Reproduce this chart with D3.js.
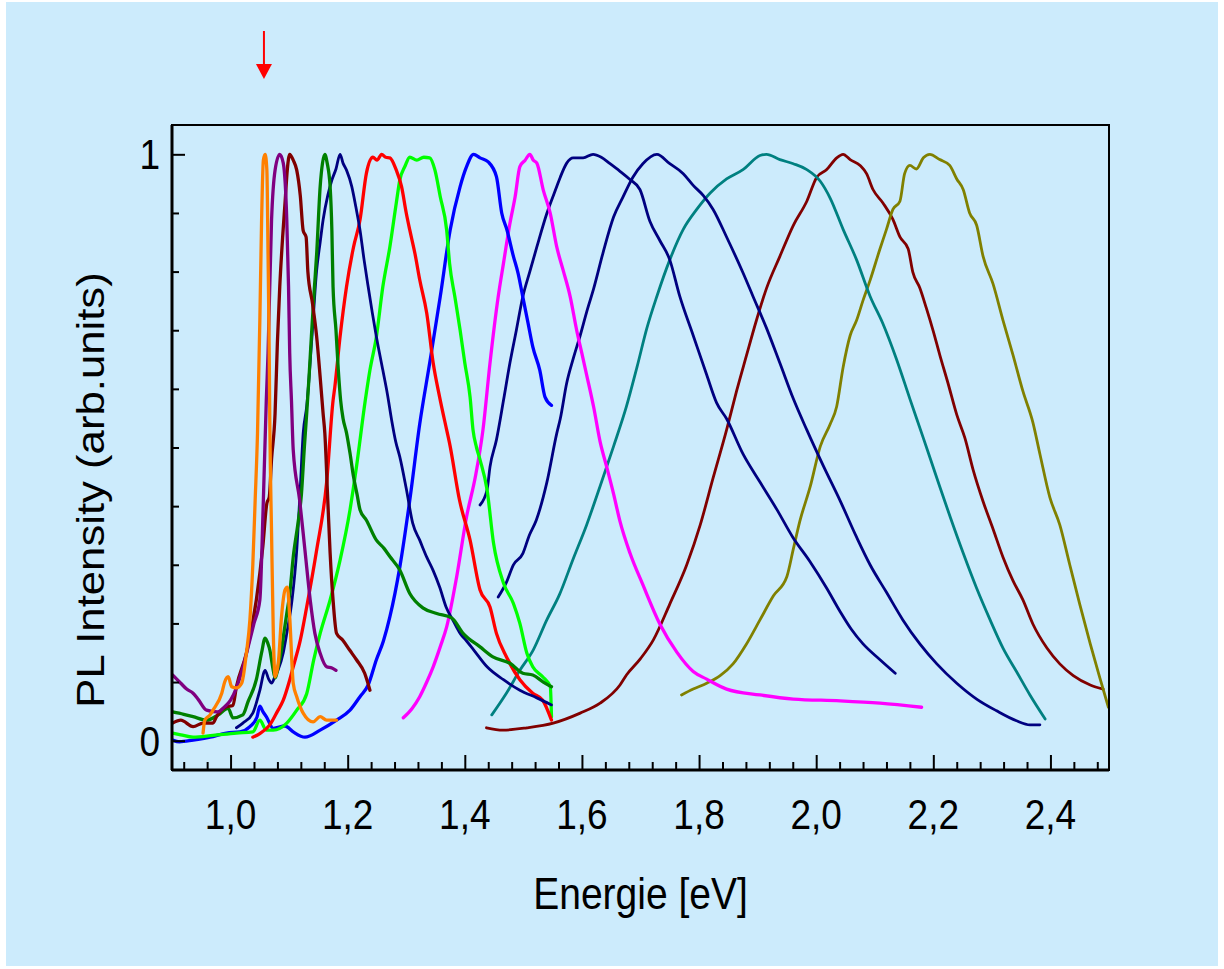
<!DOCTYPE html>
<html>
<head>
<meta charset="utf-8">
<script src="https://cdn.jsdelivr.net/npm/d3@7/dist/d3.min.js"></script>
<style>
  html, body { margin: 0; padding: 0; background: #ffffff; }
  svg { display: block; }
  text { font-family: "Liberation Sans", Arial, sans-serif; fill: #000; }
</style>
</head>
<body>
<svg id="chart" width="1224" height="969"></svg>
<script>
// ---------- data (energy eV, normalized PL intensity) ----------
const orange = [[0.953,0.013],[0.956,0.035],[0.965,0.044],[0.970,0.052],[0.985,0.081],[0.990,0.100],[0.996,0.109],[1.002,0.092],[1.010,0.090],[1.019,0.098],[1.027,0.149],[1.033,0.206],[1.038,0.30],[1.042,0.41],[1.046,0.524],[1.050,0.717],[1.053,0.888],[1.056,0.99],[1.059,1.0],[1.062,0.973],[1.064,0.83],[1.066,0.661],[1.067,0.545],[1.070,0.354],[1.073,0.183],[1.076,0.109],[1.082,0.138],[1.087,0.211],[1.093,0.257],[1.097,0.262],[1.101,0.211],[1.107,0.098],[1.113,0.075],[1.124,0.047],[1.141,0.032],[1.153,0.041],[1.164,0.035],[1.181,0.035]];
const purple = [[0.901,0.112],[0.915,0.098],[0.925,0.088],[0.936,0.081],[0.945,0.070],[0.959,0.052],[0.978,0.049],[0.990,0.058],[1.000,0.069],[1.010,0.090],[1.019,0.118],[1.030,0.160],[1.040,0.200],[1.050,0.240],[1.056,0.410],[1.061,0.580],[1.064,0.661],[1.070,0.888],[1.076,0.973],[1.084,1.0],[1.090,0.985],[1.096,0.888],[1.099,0.774],[1.101,0.661],[1.104,0.580],[1.107,0.496],[1.118,0.410],[1.127,0.325],[1.136,0.240],[1.144,0.183],[1.153,0.149],[1.164,0.126],[1.173,0.124],[1.180,0.120]];
const maroon1 = [[0.901,0.030],[0.915,0.035],[0.936,0.024],[0.953,0.030],[0.970,0.030],[0.976,0.041],[0.993,0.058],[1.004,0.060],[1.010,0.092],[1.027,0.149],[1.044,0.240],[1.055,0.330],[1.062,0.405],[1.066,0.415],[1.070,0.480],[1.076,0.558],[1.080,0.680],[1.084,0.774],[1.089,0.860],[1.093,0.917],[1.097,0.975],[1.101,1.0],[1.107,0.990],[1.113,0.973],[1.119,0.930],[1.124,0.870],[1.129,0.859],[1.132,0.800],[1.140,0.745],[1.147,0.689],[1.153,0.620],[1.158,0.558],[1.161,0.524],[1.166,0.410],[1.170,0.320],[1.175,0.240],[1.181,0.183],[1.192,0.171],[1.203,0.155],[1.215,0.138],[1.229,0.115],[1.238,0.086]];
const green = [[0.901,0.049],[0.920,0.045],[0.936,0.041],[0.959,0.035],[0.979,0.044],[0.996,0.055],[1.004,0.039],[1.021,0.044],[1.030,0.067],[1.044,0.104],[1.053,0.150],[1.059,0.175],[1.064,0.165],[1.067,0.155],[1.072,0.125],[1.076,0.107],[1.082,0.130],[1.087,0.155],[1.092,0.190],[1.096,0.217],[1.101,0.250],[1.107,0.313],[1.115,0.370],[1.121,0.420],[1.126,0.500],[1.130,0.558],[1.134,0.620],[1.138,0.689],[1.143,0.770],[1.147,0.830],[1.153,0.945],[1.157,0.985],[1.161,1.0],[1.165,0.985],[1.170,0.945],[1.173,0.870],[1.175,0.774],[1.180,0.700],[1.184,0.632],[1.188,0.580],[1.192,0.550],[1.198,0.525],[1.204,0.490],[1.210,0.450],[1.216,0.420],[1.221,0.394],[1.232,0.376],[1.249,0.342],[1.262,0.328],[1.272,0.314],[1.289,0.291],[1.306,0.251],[1.329,0.226],[1.352,0.217],[1.378,0.209],[1.397,0.183],[1.426,0.160],[1.448,0.143],[1.477,0.132],[1.499,0.115],[1.516,0.112],[1.534,0.100],[1.548,0.092]];
const navy1 = [[1.010,0.022],[1.021,0.030],[1.038,0.047],[1.050,0.086],[1.059,0.120],[1.065,0.105],[1.070,0.098],[1.076,0.110],[1.081,0.120],[1.090,0.150],[1.096,0.183],[1.105,0.240],[1.113,0.325],[1.119,0.430],[1.124,0.524],[1.130,0.570],[1.139,0.689],[1.147,0.802],[1.153,0.850],[1.158,0.888],[1.166,0.930],[1.173,0.956],[1.180,0.975],[1.187,1.0],[1.192,0.985],[1.198,0.973],[1.207,0.945],[1.214,0.910],[1.221,0.871],[1.228,0.820],[1.235,0.774],[1.242,0.730],[1.249,0.689],[1.260,0.632],[1.268,0.590],[1.275,0.547],[1.282,0.510],[1.289,0.484],[1.300,0.430],[1.311,0.371],[1.323,0.342],[1.335,0.313],[1.346,0.290],[1.357,0.262],[1.368,0.228],[1.380,0.205],[1.392,0.183],[1.403,0.170],[1.415,0.155],[1.438,0.126],[1.466,0.104],[1.494,0.086],[1.523,0.073],[1.548,0.061]];
const red = [[1.038,0.006],[1.050,0.012],[1.067,0.027],[1.080,0.050],[1.090,0.069],[1.100,0.100],[1.107,0.126],[1.119,0.171],[1.130,0.228],[1.147,0.325],[1.164,0.440],[1.175,0.580],[1.178,0.603],[1.187,0.689],[1.198,0.774],[1.210,0.842],[1.221,0.888],[1.232,0.968],[1.243,0.995],[1.250,0.990],[1.258,1.0],[1.265,0.995],[1.272,0.994],[1.283,0.973],[1.292,0.945],[1.300,0.900],[1.306,0.871],[1.315,0.830],[1.323,0.786],[1.335,0.729],[1.346,0.644],[1.357,0.586],[1.369,0.530],[1.374,0.507],[1.391,0.410],[1.409,0.342],[1.426,0.257],[1.443,0.228],[1.454,0.183],[1.471,0.143],[1.494,0.104],[1.516,0.081],[1.533,0.069],[1.548,0.035]];
const lime = [[0.901,0.013],[0.915,0.010],[0.936,0.006],[0.970,0.009],[1.010,0.013],[1.038,0.015],[1.050,0.035],[1.061,0.018],[1.073,0.018],[1.096,0.030],[1.113,0.052],[1.130,0.080],[1.142,0.138],[1.153,0.183],[1.170,0.240],[1.187,0.308],[1.204,0.394],[1.215,0.467],[1.230,0.580],[1.238,0.632],[1.249,0.689],[1.260,0.774],[1.272,0.842],[1.283,0.917],[1.289,0.956],[1.298,0.980],[1.306,0.995],[1.318,0.990],[1.330,0.995],[1.340,0.994],[1.349,0.973],[1.358,0.928],[1.369,0.871],[1.374,0.814],[1.383,0.757],[1.392,0.700],[1.400,0.644],[1.409,0.586],[1.414,0.530],[1.420,0.500],[1.426,0.479],[1.438,0.428],[1.449,0.337],[1.466,0.269],[1.483,0.234],[1.494,0.200],[1.506,0.149],[1.516,0.126],[1.533,0.109],[1.546,0.092],[1.548,0.041]];
const blue = [[0.901,0.001],[0.913,-0.002],[0.936,0.001],[0.965,0.006],[0.993,0.013],[1.016,0.015],[1.033,0.024],[1.045,0.040],[1.050,0.059],[1.055,0.050],[1.061,0.041],[1.073,0.021],[1.093,0.025],[1.107,0.015],[1.127,0.006],[1.153,0.018],[1.181,0.035],[1.204,0.052],[1.221,0.075],[1.235,0.095],[1.249,0.138],[1.261,0.170],[1.272,0.211],[1.289,0.296],[1.306,0.410],[1.323,0.540],[1.340,0.644],[1.358,0.757],[1.375,0.871],[1.392,0.945],[1.403,0.979],[1.415,1.0],[1.426,0.994],[1.440,0.987],[1.454,0.962],[1.463,0.900],[1.472,0.871],[1.483,0.826],[1.491,0.797],[1.499,0.757],[1.508,0.712],[1.516,0.672],[1.528,0.632],[1.537,0.586],[1.548,0.572]];
const magenta = [[1.295,0.039],[1.310,0.055],[1.323,0.075],[1.335,0.100],[1.346,0.126],[1.358,0.160],[1.369,0.194],[1.386,0.279],[1.403,0.382],[1.418,0.450],[1.431,0.530],[1.443,0.644],[1.457,0.757],[1.466,0.814],[1.477,0.882],[1.486,0.928],[1.494,0.979],[1.503,0.990],[1.511,1.0],[1.517,0.990],[1.523,0.985],[1.534,0.939],[1.546,0.899],[1.557,0.842],[1.568,0.802],[1.580,0.757],[1.591,0.700],[1.600,0.660],[1.608,0.624],[1.620,0.569],[1.631,0.510],[1.642,0.468],[1.654,0.421],[1.665,0.374],[1.682,0.320],[1.704,0.266],[1.733,0.199],[1.762,0.151],[1.790,0.118],[1.813,0.105],[1.847,0.088],[1.904,0.078],[1.961,0.071],[2.041,0.068],[2.109,0.064],[2.180,0.057]];
const navyA = [[1.426,0.402],[1.438,0.428],[1.443,0.467],[1.454,0.513],[1.466,0.580],[1.477,0.644],[1.488,0.700],[1.499,0.757],[1.511,0.800],[1.523,0.842],[1.540,0.899],[1.557,0.945],[1.563,0.961],[1.574,0.985],[1.585,0.994],[1.602,0.994],[1.619,1.0],[1.633,0.995],[1.648,0.984],[1.665,0.971],[1.682,0.957],[1.699,0.940],[1.716,0.886],[1.733,0.853],[1.750,0.820],[1.767,0.758],[1.790,0.691],[1.813,0.624],[1.830,0.576],[1.847,0.549],[1.875,0.489],[1.904,0.441],[1.933,0.394],[1.960,0.347],[1.989,0.306],[2.018,0.260],[2.041,0.220],[2.060,0.190],[2.080,0.165],[2.109,0.138],[2.135,0.115]];
const navyB = [[1.457,0.245],[1.471,0.270],[1.483,0.300],[1.499,0.319],[1.510,0.350],[1.522,0.376],[1.540,0.440],[1.557,0.524],[1.563,0.549],[1.574,0.610],[1.585,0.651],[1.597,0.691],[1.608,0.731],[1.620,0.771],[1.636,0.832],[1.654,0.893],[1.670,0.927],[1.687,0.961],[1.704,0.984],[1.728,1.0],[1.750,0.984],[1.773,0.967],[1.790,0.947],[1.807,0.930],[1.824,0.906],[1.847,0.859],[1.875,0.798],[1.892,0.758],[1.915,0.704],[1.938,0.644],[1.961,0.583],[1.984,0.530],[2.012,0.469],[2.041,0.409],[2.069,0.347],[2.092,0.300],[2.120,0.253],[2.148,0.206],[2.177,0.165],[2.206,0.131],[2.240,0.098],[2.274,0.071],[2.308,0.051],[2.342,0.034],[2.365,0.027],[2.382,0.027]];
const teal = [[1.446,0.044],[1.471,0.081],[1.494,0.120],[1.517,0.155],[1.540,0.206],[1.562,0.250],[1.585,0.310],[1.608,0.368],[1.631,0.434],[1.654,0.502],[1.676,0.570],[1.694,0.637],[1.711,0.704],[1.728,0.758],[1.750,0.820],[1.773,0.872],[1.796,0.906],[1.819,0.934],[1.847,0.958],[1.875,0.974],[1.904,0.998],[1.915,1.0],[1.938,0.991],[1.961,0.984],[1.984,0.974],[2.007,0.954],[2.024,0.925],[2.046,0.872],[2.069,0.820],[2.092,0.758],[2.114,0.711],[2.137,0.651],[2.160,0.583],[2.183,0.516],[2.206,0.448],[2.229,0.381],[2.251,0.320],[2.274,0.260],[2.297,0.206],[2.319,0.158],[2.342,0.118],[2.365,0.078],[2.391,0.037]];
const maroon2 = [[1.437,0.022],[1.465,0.018],[1.506,0.022],[1.551,0.030],[1.597,0.047],[1.631,0.064],[1.665,0.095],[1.676,0.112],[1.700,0.140],[1.722,0.172],[1.750,0.233],[1.779,0.300],[1.802,0.368],[1.824,0.448],[1.847,0.530],[1.864,0.596],[1.881,0.657],[1.898,0.717],[1.915,0.771],[1.938,0.826],[1.961,0.879],[1.984,0.920],[2.001,0.961],[2.018,0.974],[2.035,0.994],[2.046,1.0],[2.058,0.991],[2.075,0.981],[2.086,0.967],[2.097,0.940],[2.114,0.917],[2.131,0.889],[2.143,0.859],[2.157,0.839],[2.165,0.799],[2.177,0.772],[2.188,0.738],[2.200,0.698],[2.211,0.658],[2.225,0.610],[2.240,0.556],[2.254,0.516],[2.268,0.462],[2.285,0.408],[2.302,0.361],[2.319,0.313],[2.336,0.273],[2.353,0.240],[2.370,0.199],[2.394,0.158],[2.416,0.131],[2.439,0.111],[2.468,0.095],[2.490,0.088]];
const olive = [[1.770,0.078],[1.790,0.088],[1.813,0.098],[1.836,0.111],[1.858,0.131],[1.881,0.165],[1.904,0.206],[1.927,0.247],[1.950,0.280],[1.961,0.327],[1.972,0.374],[1.990,0.434],[2.007,0.502],[2.024,0.540],[2.035,0.570],[2.046,0.637],[2.058,0.691],[2.069,0.717],[2.080,0.751],[2.092,0.785],[2.109,0.839],[2.120,0.872],[2.131,0.906],[2.143,0.920],[2.151,0.967],[2.160,0.981],[2.171,0.975],[2.183,0.994],[2.194,1.0],[2.211,0.991],[2.228,0.981],[2.240,0.958],[2.251,0.940],[2.262,0.900],[2.274,0.879],[2.285,0.826],[2.302,0.779],[2.319,0.717],[2.336,0.658],[2.353,0.596],[2.370,0.543],[2.382,0.489],[2.399,0.415],[2.416,0.368],[2.433,0.300],[2.450,0.233],[2.468,0.165],[2.485,0.105],[2.499,0.057]];

const seriesNames  = ["maroon2","olive","teal","navyB","navyA","magenta","blue","lime","red","navy1","green","maroon1","purple","orange"];
const seriesData   = [maroon2, olive, teal, navyB, navyA, magenta, blue, lime, red, navy1, green, maroon1, purple, orange];
const seriesColors = ["#800000","#808000","#008080","#000080","#000080","#FF00FF","#0000FF","#00FF00","#FF0000","#000080","#008000","#800000","#800080","#FF8000"];

const xTickLabels = ["1,0","1,2","1,4","1,6","1,8","2,0","2,2","2,4"];
const xMajorTicks = [1.0,1.2,1.4,1.6,1.8,2.0,2.2,2.4];
const yTickLabels = ["0","1"];
const yMajorTicks = [0,1];
const arrowEnergy = 1.057;

// ---------- layout ----------
const W = 1224, H = 969;
const M = {left:172, top:125, right:1109, bottom:770};
const svg = d3.select("#chart");

svg.append("rect").attr("x",6).attr("y",2).attr("width",W-12).attr("height",H-5).attr("fill","#CCEBFC");

const x = d3.scaleLinear().domain([0.9,2.5]).range([M.left, M.right]);
const y = d3.scaleLinear().domain([-0.05,1.05]).range([M.bottom, M.top]);

svg.append("defs").append("clipPath").attr("id","clip")
  .append("rect").attr("x",M.left).attr("y",M.top).attr("width",M.right-M.left).attr("height",M.bottom-M.top);

const line = d3.line().x(d=>x(d[0])).y(d=>y(d[1])).curve(d3.curveMonotoneX);
const thin = new Set(["maroon2","olive","teal","navyB","navyA","navy1"]);
const g = svg.append("g").attr("clip-path","url(#clip)");
seriesData.forEach((d,i)=>{
  g.append("path").datum(d)
   .attr("d",line)
   .attr("fill","none")
   .attr("stroke",seriesColors[i])
   .attr("stroke-width", thin.has(seriesNames[i]) ? 2.8 : 3.3)
   .attr("stroke-linejoin","round")
   .attr("stroke-linecap","round");
});

// frame
svg.append("rect").attr("x",M.left).attr("y",M.top).attr("width",M.right-M.left).attr("height",M.bottom-M.top)
  .attr("fill","none").attr("stroke","#000").attr("stroke-width",2);
svg.append("line").attr("x1",M.left).attr("x2",M.left).attr("y1",M.top).attr("y2",M.bottom)
  .attr("stroke","#000").attr("stroke-width",3);
svg.append("line").attr("x1",M.left).attr("x2",M.right).attr("y1",M.bottom).attr("y2",M.bottom)
  .attr("stroke","#000").attr("stroke-width",3);

// x axis ticks (inward)
const xAxis = d3.axisTop(x).tickValues(d3.range(0.92,2.5,0.04)).tickFormat("").tickSizeOuter(0)
  .tickSizeInner(7);
const gx = svg.append("g").attr("transform",`translate(0,${M.bottom})`).call(xAxis);
gx.select(".domain").remove();
gx.selectAll(".tick line").attr("stroke","#000").attr("stroke-width",2)
  .attr("y2", d => xMajorTicks.some(t=>Math.abs(t-d)<1e-6) ? -15 : -8);

// x tick labels
xMajorTicks.forEach((t,i)=>{
  svg.append("text").attr("x",x(t)).attr("y",829)
    .attr("text-anchor","middle").attr("font-size",37)
    .attr("transform",`translate(0,829) scale(1,1.13) translate(0,-829)`)
    .text(xTickLabels[i]);
});

// y axis ticks (inward)
const yAxis = d3.axisRight(y).tickValues(d3.range(0,1.0001,0.1)).tickFormat("").tickSizeOuter(0).tickSizeInner(7);
const gy = svg.append("g").attr("transform",`translate(${M.left},0)`).call(yAxis);
gy.select(".domain").remove();
gy.selectAll(".tick line").attr("stroke","#000").attr("stroke-width",2)
  .attr("x2", d => yMajorTicks.some(t=>Math.abs(t-d)<1e-6) ? 13 : 7);

yMajorTicks.forEach((t,i)=>{
  const yy = y(t)+15;
  svg.append("text").attr("x",160).attr("y",yy)
    .attr("text-anchor","end").attr("font-size",37)
    .attr("transform",`translate(0,${yy}) scale(1,1.13) translate(0,${-yy})`)
    .text(yTickLabels[i]);
});

// axis titles
svg.append("text").attr("x",(M.left+M.right)/2).attr("y",909)
  .attr("text-anchor","middle").attr("font-size",39)
  .attr("transform",`translate(0,909) scale(1,1.13) translate(0,-909)`)
  .text("Energie [eV]");
svg.append("text")
  .attr("transform",`translate(104,490) rotate(-90) scale(1.15,1)`)
  .attr("text-anchor","middle").attr("font-size",38)
  .text("PL Intensity (arb.units)");

// arrow
const ax = x(arrowEnergy);
svg.append("line").attr("x1",ax).attr("x2",ax).attr("y1",M.top-94).attr("y2",M.top-60)
  .attr("stroke","#FF0000").attr("stroke-width",2);
svg.append("path").attr("d",`M${ax-8},${M.top-61}L${ax+8},${M.top-61}L${ax},${M.top-46}Z`).attr("fill","#FF0000");
</script>
</body>
</html>
